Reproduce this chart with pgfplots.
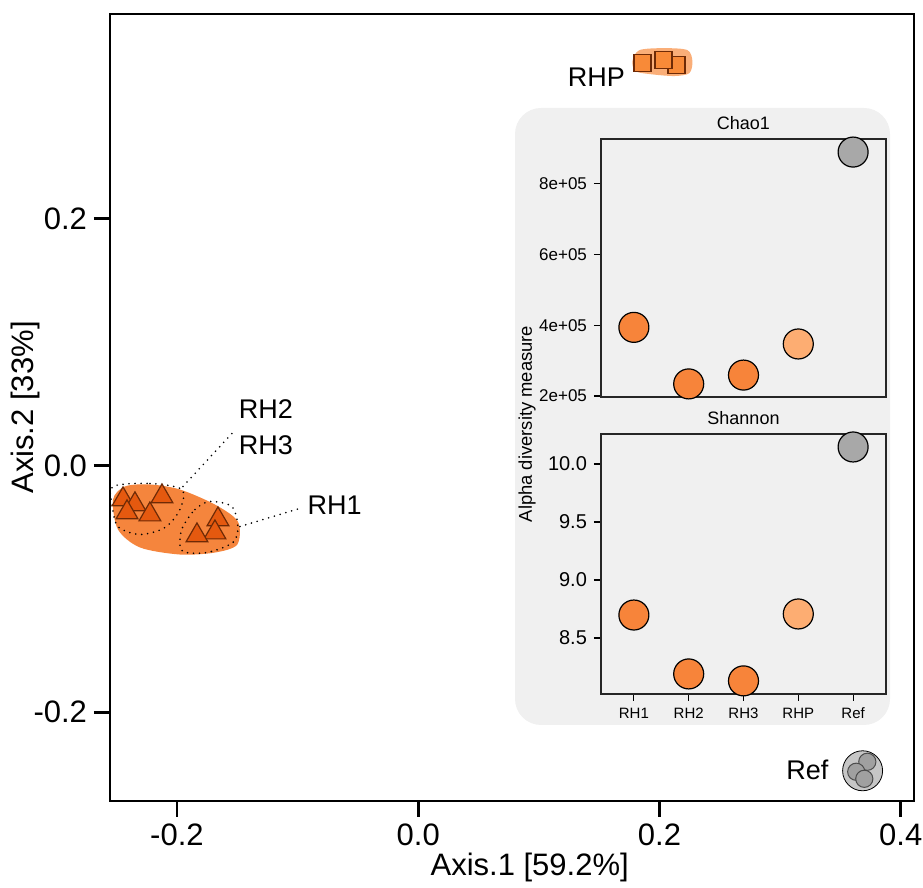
\documentclass[border=0pt]{standalone}
\usepackage{pgfplots}
\pgfplotsset{compat=1.18}
\usepackage{fontspec}
\setmainfont{Liberation Sans}

\definecolor{rhfill}{HTML}{E5590F}
\definecolor{rhedge}{HTML}{6E2A06}
\definecolor{hullrh}{HTML}{F5853D}
\definecolor{hullrhp}{HTML}{FAAE78}
\definecolor{rhpfill}{HTML}{F88A38}
\definecolor{refhull}{HTML}{C6C6C6}
\definecolor{refpt}{HTML}{A0A0A0}
\definecolor{insetbg}{HTML}{F0F0F0}
\definecolor{ptorange}{HTML}{F7843A}
\definecolor{ptlight}{HTML}{FDAD72}
\definecolor{ptgrey}{HTML}{A8A8A8}

\begin{document}
\begin{tikzpicture}
\useasboundingbox (-55pt,-43.5pt) rectangle (406.5pt,400.5pt);

% main ordination plot
\begin{axis}[
    at={(0pt,0pt)}, anchor=south west,
    scale only axis, width=402pt, height=393.5pt,
    xmin=-0.2555, xmax=0.411,
    ymin=-0.272, ymax=0.366,
    axis line style={line width=1.1pt},
    tick style={line width=1.4pt, black},
    tick align=outside, major tick length=8pt,
    tick pos=left,
    xtick={-0.2,0,0.2,0.4}, xticklabels={-0.2,0.0,0.2,0.4},
    ytick={-0.2,0,0.2}, yticklabels={-0.2,0.0,0.2},
    tick label style={font=\fontsize{15.5}{18}\selectfont},
    label style={font=\fontsize{15.5}{18}\selectfont},
    xlabel={Axis.1 [59.2\%]}, ylabel={Axis.2 [33\%]},
    xlabel style={at={(axis description cs:0.522,-0.0851)}, anchor=center},
    ylabel style={at={(axis description cs:-0.1057,0.5)}, anchor=center},
]
% RH hull
\addplot[fill=hullrh, draw=none, smooth cycle] coordinates {
    (-0.253,-0.0276) (-0.243,-0.017) (-0.2224,-0.0154) (-0.1975,-0.0195)
    (-0.1685,-0.0317) (-0.1495,-0.0454) (-0.150,-0.0641) (-0.1685,-0.0706)
    (-0.1975,-0.0722) (-0.2306,-0.0665) (-0.2489,-0.0519)};
% RH2/RH3 hull
\addplot[black, line width=0.9pt, dash pattern=on 0pt off 3pt, line cap=round, smooth cycle] coordinates {
    (-0.253,-0.017) (-0.2224,-0.0146) (-0.1959,-0.0195) (-0.1975,-0.0357)
    (-0.2099,-0.0503) (-0.2306,-0.056) (-0.2489,-0.0495) (-0.2538,-0.0316)};
% RH1 hull
\addplot[black, line width=0.9pt, dash pattern=on 0pt off 3pt, line cap=round, smooth cycle] coordinates {
    (-0.195,-0.0495) (-0.1851,-0.0357) (-0.1727,-0.0292) (-0.1545,-0.0333)
    (-0.1495,-0.0495) (-0.1536,-0.0625) (-0.1752,-0.0706) (-0.195,-0.0698)
    (-0.1975,-0.06)};
% leaders
\addplot[black, line width=0.9pt, dash pattern=on 0pt off 3pt, line cap=round] coordinates {(-0.195,-0.017) (-0.1536,0.0268)};
\addplot[black, line width=0.9pt, dash pattern=on 0pt off 3pt, line cap=round] coordinates {(-0.1478,-0.0495) (-0.0957,-0.0341)};
% RH samples
\addplot[only marks, mark=triangle*, mark size=6.3pt, mark options={fill=rhfill, draw=rhedge, line width=0.6pt}] coordinates {
    (-0.2447,-0.0276) (-0.2348,-0.0316) (-0.2414,-0.0381) (-0.2224,-0.0398)
    (-0.2124,-0.0252) (-0.166,-0.0438) (-0.1685,-0.0544) (-0.1834,-0.0568)};
% RHP hull and samples
\addplot[fill=hullrhp, draw=none, smooth cycle] coordinates {
    (0.1776,0.3278) (0.1834,0.3367) (0.2041,0.3383) (0.2232,0.3367)
    (0.2273,0.3278) (0.2248,0.3181) (0.2124,0.3157) (0.1917,0.3173) (0.1801,0.3197)};
\addplot[only marks, mark=square*, mark size=4.25pt, mark options={fill=rhpfill, draw=rhedge, line width=0.6pt}] coordinates {
    (0.1859,0.3262) (0.2141,0.3245) (0.2033,0.3286)};
% Ref hull and samples
\addplot[only marks, mark=*, mark size=10pt, mark options={fill=refhull, draw=none}] coordinates {(0.3684,-0.2475)};
\addplot[only marks, mark=*, mark size=4.3pt, mark options={fill=refpt, draw=black!70, line width=0.5pt}] coordinates {
    (0.3723,-0.2402) (0.3631,-0.2483) (0.3698,-0.254)};
% group labels
\node[font=\fontsize{13.5}{16}\selectfont] at (axis cs:-0.1263,0.0454) {RH2};
\node[font=\fontsize{13.5}{16}\selectfont] at (axis cs:-0.1263,0.0162) {RH3};
\node[font=\fontsize{13.5}{16}\selectfont] at (axis cs:-0.0692,-0.0325) {RH1};
\node[font=\fontsize{13.5}{16}\selectfont] at (axis cs:0.1478,0.3148) {RHP};
\node[font=\fontsize{13.5}{16}\selectfont] at (axis cs:0.3226,-0.2467) {Ref};
\end{axis}

% inset panel background
\fill[insetbg, rounded corners=13pt] (202.5pt,38pt) rectangle (390pt,346.5pt);
\node[rotate=90, font=\fontsize{9.2}{11}\selectfont] at (208.5pt,188.5pt) {Alpha diversity measure};

\pgfplotsset{every axis title shift=0pt}
% Chao1
\begin{axis}[
    at={(245.5pt,202pt)}, anchor=south west,
    scale only axis, width=142.5pt, height=129pt,
    xmin=0.4, xmax=5.6, ymin=197000, ymax=927000,
    xtick=\empty,
    ytick={200000,400000,600000,800000}, yticklabels={2e+05,4e+05,6e+05,8e+05},
    tick pos=left, tick align=outside, major tick length=3.5pt,
    axis line style={line width=0.6pt, black!85},
    tick style={line width=0.6pt, black},
    axis background/.style={fill=insetbg},
    yticklabel style={font=\fontsize{8.5}{10}\selectfont},
    title={Chao1},
    title style={font=\fontsize{9}{11}\selectfont, at={(axis description cs:0.5,1.062)}, anchor=center},
    scaled y ticks=false, clip=false,
]
\addplot[only marks, mark=*, mark size=7.5pt, mark options={fill=ptorange, draw=black, line width=0.6pt}] coordinates {(1,394000) (2,234000) (3,259000)};
\addplot[only marks, mark=*, mark size=7.5pt, mark options={fill=ptlight, draw=black, line width=0.6pt}] coordinates {(4,347000)};
\addplot[only marks, mark=*, mark size=7.5pt, mark options={fill=ptgrey, draw=black, line width=0.6pt}] coordinates {(5,890000)};
\end{axis}

% Shannon
\begin{axis}[
    at={(245.5pt,53.5pt)}, anchor=south west,
    scale only axis, width=142.5pt, height=130pt,
    xmin=0.4, xmax=5.6, ymin=8.017, ymax=10.259,
    xtick={1,2,3,4,5}, xticklabels={RH1,RH2,RH3,RHP,Ref},
    ytick={8.5,9,9.5,10}, yticklabels={8.5,9.0,9.5,10.0},
    tick pos=left, tick align=outside, major tick length=3.5pt,
    axis line style={line width=0.6pt, black!85},
    tick style={line width=0.6pt, black},
    axis background/.style={fill=insetbg},
    yticklabel style={font=\fontsize{10}{12}\selectfont},
    xticklabel style={font=\fontsize{7.5}{9}\selectfont},
    title={Shannon},
    title style={font=\fontsize{9}{11}\selectfont, at={(axis description cs:0.5,1.062)}, anchor=center},
    clip=false,
]
\addplot[only marks, mark=*, mark size=7.5pt, mark options={fill=ptorange, draw=black, line width=0.6pt}] coordinates {(1,8.698) (2,8.19) (3,8.13)};
\addplot[only marks, mark=*, mark size=7.5pt, mark options={fill=ptlight, draw=black, line width=0.6pt}] coordinates {(4,8.707)};
\addplot[only marks, mark=*, mark size=7.5pt, mark options={fill=ptgrey, draw=black, line width=0.6pt}] coordinates {(5,10.147)};
\end{axis}
\end{tikzpicture}
\end{document}
